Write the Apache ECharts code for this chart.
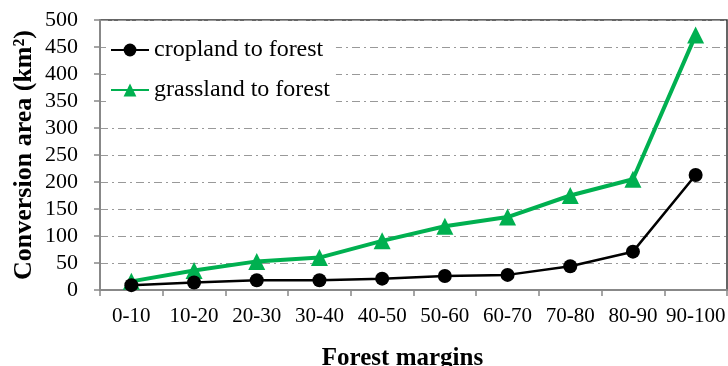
<!DOCTYPE html>
<html>
<head>
<meta charset="utf-8">
<script src="https://cdn.jsdelivr.net/npm/echarts@6/dist/echarts.min.js"></script>
<style>
  html, body { margin: 0; padding: 0; background: #fff; }
  #chart { width: 728px; height: 366px; }
</style>
</head>
<body>
<div id="chart"></div>
<script>
// Forest margin classes (%)
const categories = ['0-10', '10-20', '20-30', '30-40', '40-50', '50-60', '60-70', '70-80', '80-90', '90-100'];
// Conversion area (km²) per margin class
const croplandToForest = [9, 14, 18, 18, 21, 26, 28, 44, 71, 213];
const grasslandToForest = [16, 36, 53, 60, 91, 118, 135, 175, 205, 472];
const yTicks = { min: 0, max: 500, interval: 50 };

const serif = '"Liberation Serif", "Times New Roman", serif';

const chart = echarts.init(document.getElementById('chart'));
chart.setOption({
  animation: false,
  backgroundColor: '#fff',
  textStyle: { fontFamily: serif },
  grid: {
    left: 100, right: 1, top: 20, bottom: 76,
    outerBoundsMode: 'none',
    show: true, borderColor: '#333', borderWidth: 1.5, backgroundColor: 'transparent'
  },
  legend: {
    left: 106, top: 34, orient: 'vertical',
    backgroundColor: '#fff', padding: [4, 6, 4, 4],
    itemWidth: 38, itemHeight: 16, itemGap: 16,
    textStyle: { fontFamily: serif, fontSize: 24, color: '#000' },
    data: ['cropland to forest', 'grassland to forest']
  },
  xAxis: {
    type: 'category',
    data: categories,
    boundaryGap: true,
    name: 'Forest margins',
    nameLocation: 'middle',
    nameGap: 56,
    nameTextStyle: { fontFamily: serif, fontSize: 25, fontWeight: 'bold', color: '#000', padding: [0, 22, 0, 0] },
    axisLine: { lineStyle: { color: '#888', width: 2 } },
    axisTick: { show: true, alignWithLabel: false, length: 6, lineStyle: { color: '#888', width: 1.5 } },
    axisLabel: { fontFamily: serif, fontSize: 21, color: '#000', margin: 16, interval: 0 },
    splitLine: { show: false }
  },
  yAxis: {
    type: 'value',
    min: yTicks.min, max: yTicks.max, interval: yTicks.interval,
    name: 'Conversion area (km²)',
    nameLocation: 'middle',
    nameGap: 63,
    nameMoveOverlap: false,
    nameTextStyle: { fontFamily: serif, fontSize: 26, fontWeight: 'bold', color: '#000' },
    axisLine: { show: true, lineStyle: { color: '#888', width: 2 } },
    axisTick: { show: true, length: 6, lineStyle: { color: '#888', width: 1.5 } },
    axisLabel: { fontFamily: serif, fontSize: 22, color: '#000', margin: 22 },
    splitLine: { show: true, lineStyle: { color: '#999', width: 1, type: [8, 4, 2, 4] } }
  },
  series: [
    {
      name: 'cropland to forest',
      type: 'line',
      data: croplandToForest,
      symbol: 'circle',
      symbolSize: 14,
      lineStyle: { color: '#000', width: 2.5 },
      itemStyle: { color: '#000' },
      z: 3
    },
    {
      name: 'grassland to forest',
      type: 'line',
      data: grasslandToForest,
      symbol: 'triangle',
      symbolSize: 17,
      lineStyle: { color: '#00B050', width: 4 },
      itemStyle: { color: '#00B050' },
      z: 2
    }
  ]
});
</script>
</body>
</html>
